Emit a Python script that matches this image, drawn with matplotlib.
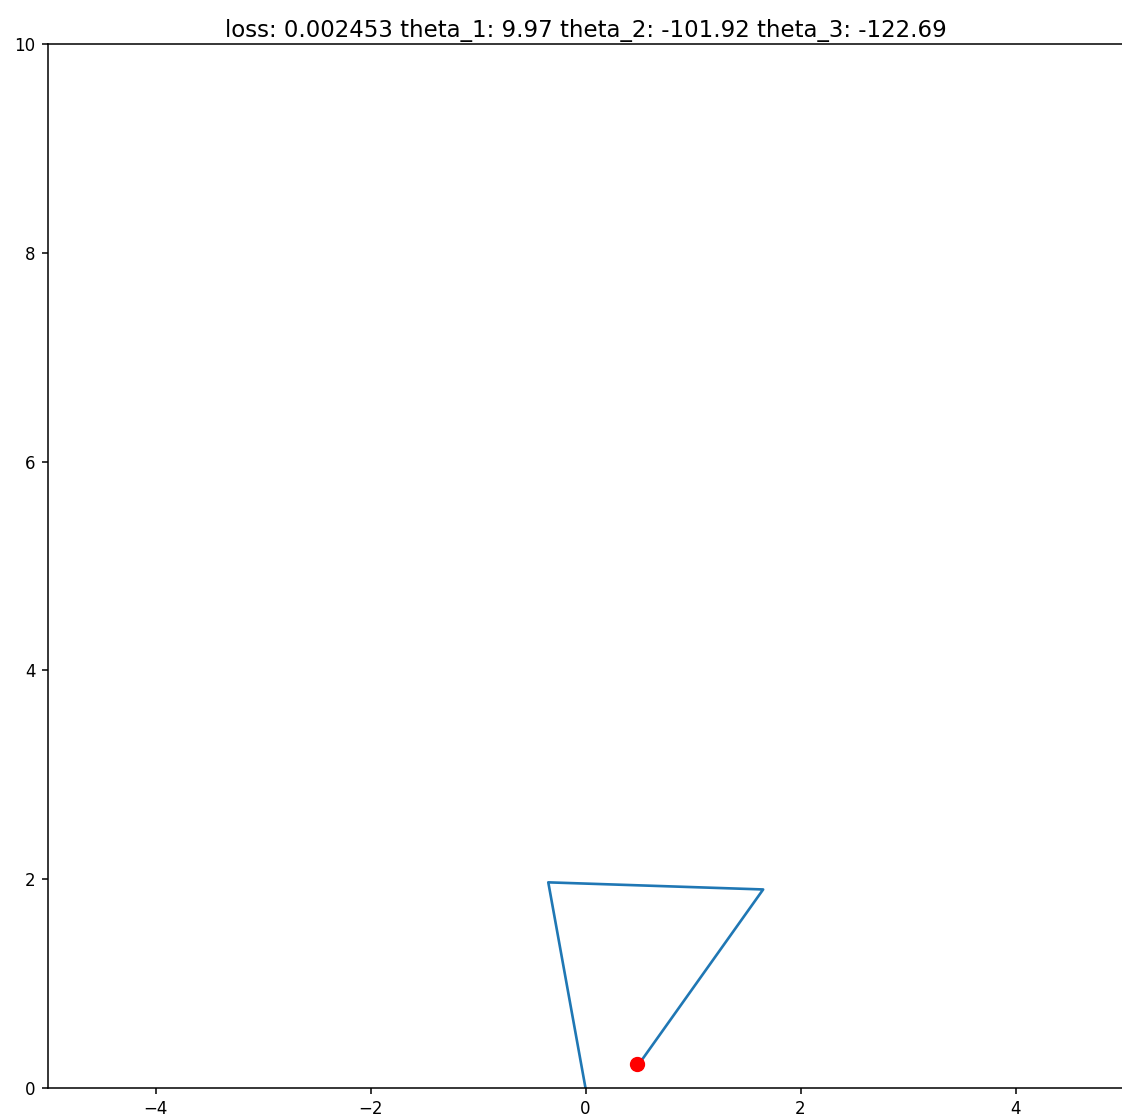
import numpy as np
import matplotlib
matplotlib.use("Agg")
import matplotlib.pyplot as plt

# Arm state
loss = 0.002453
theta_deg = [9.97, -101.92, -122.69]
link_lengths = [2.0, 2.0, 2.0]
target = (0.48, 0.23)

# Forward kinematics: angles measured from the vertical, accumulated along the chain
xs, ys = [0.0], [0.0]
total = 0.0
for th, L in zip(theta_deg, link_lengths):
    total += np.deg2rad(th)
    xs.append(xs[-1] - L * np.sin(total))
    ys.append(ys[-1] + L * np.cos(total))

fig = plt.figure(figsize=(11.22, 11.19), dpi=100)
ax = fig.add_axes([48 / 1122, 1 - 1088 / 1119, 1075 / 1122, 1044 / 1119])
ax.plot(xs, ys, color="#1f77b4", linewidth=1.9)
ax.plot(*target, "o", color="red", markersize=10)
ax.set_xlim(-5, 5)
ax.set_ylim(0, 10)
for s in ax.spines.values():
    s.set_linewidth(1.1)
ax.tick_params(labelsize=12, length=4, width=1.1, pad=5)
ax.set_title(
    f"loss: {loss:.6f} theta_1: {theta_deg[0]:.2f} theta_2: {theta_deg[1]:.2f} theta_3: {theta_deg[2]:.2f}",
    fontsize=16.5, pad=5,
)
fig.savefig("out.png", dpi=100)
